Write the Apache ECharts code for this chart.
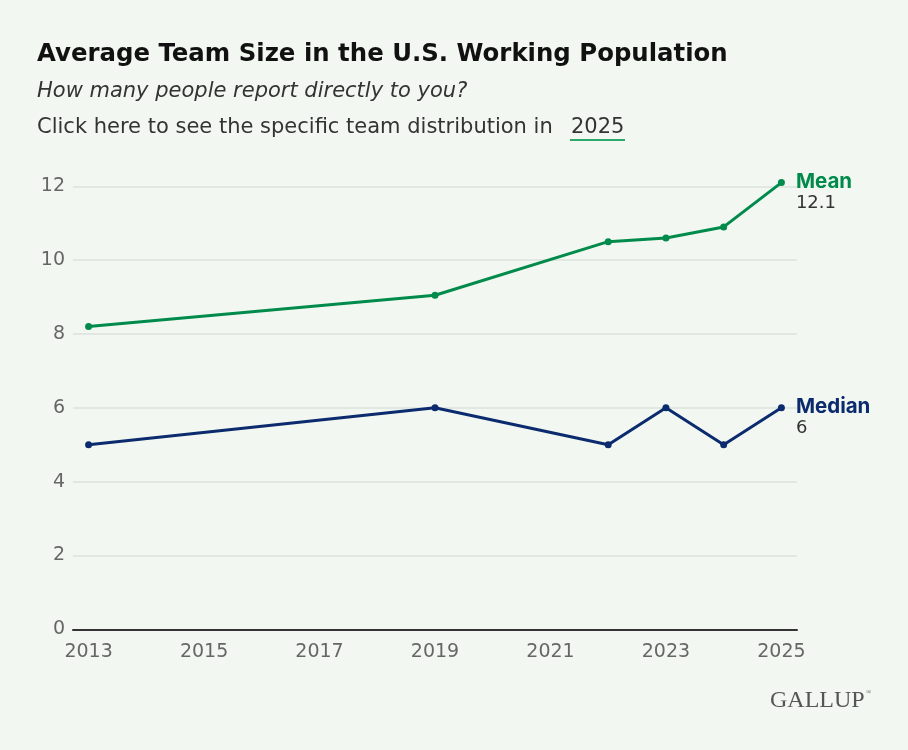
<!DOCTYPE html>
<html>
<head>
<meta charset="utf-8">
<script src="https://cdn.jsdelivr.net/npm/echarts@6/dist/echarts.min.js"></script>
<style>
  html, body { margin: 0; padding: 0; background: #f2f8f1; }
  #chart { width: 908px; height: 750px; }
</style>
</head>
<body>
<div id="chart"></div>
<script>
const years = [2013, 2019, 2022, 2023, 2024, 2025];
const meanValues = [8.2, 9.05, 10.5, 10.6, 10.9, 12.1];
const medianValues = [5, 6, 5, 6, 5, 6];
const xTickLabels = [2013, 2015, 2017, 2019, 2021, 2023, 2025];
const seriesNames = ['Mean', 'Median'];
const titleText = 'Average Team Size in the U.S. Working Population';
const subtitleText = 'How many people report directly to you?';
const linkPrefix = 'Click here to see the specific team distribution in';
const linkYear = '2025';

const GREEN = '#008a4b';
const NAVY = '#0b2b6e';
const FONT = 'Inter, "Noto Sans", sans-serif';
const WIDE = '"DejaVu Sans", sans-serif';

function buildData(values, name, color) {
  return years.map((y, i) => {
    const item = { value: [y, values[i]] };
    if (i === years.length - 1) {
      item.label = {
        show: true,
        position: 'right',
        distance: 11,
        offset: [0, 10],
        align: 'left',
        formatter: p => '{n|' + name + '}\n{v|' + p.value[1] + '}',
        rich: {
          n: { fontFamily: FONT, fontSize: 20.5, fontWeight: 'bold', color: color, lineHeight: 22 },
          v: { fontFamily: WIDE, fontSize: 18, color: '#333', lineHeight: 22 }
        }
      };
    }
    return item;
  });
}

const chart = echarts.init(document.getElementById('chart'), null, { renderer: 'canvas' });
chart.setOption({
  backgroundColor: '#f2f8f1',
  animation: false,
  grid: { left: 73, right: 111, top: 186.3, bottom: 120.7, containLabel: false },
  xAxis: {
    type: 'value',
    min: 2012.73,
    max: 2025.27,
    axisLine: { show: true, lineStyle: { color: '#333', width: 2 } },
    axisTick: { show: false },
    splitLine: { show: false },
    axisLabel: {
      customValues: xTickLabels,
      color: '#666',
      fontSize: 19,
      fontFamily: WIDE,
      margin: 13,
      formatter: v => String(v)
    }
  },
  yAxis: {
    type: 'value',
    min: 0,
    max: 12,
    interval: 2,
    axisLine: { show: false },
    axisTick: { show: false },
    splitLine: { show: true, lineStyle: { color: '#dbe2db', width: 1.5 } },
    axisLabel: { color: '#666', fontSize: 19, fontFamily: WIDE, margin: 8, padding: [3, 0, 0, 0] }
  },
  series: [
    {
      name: seriesNames[0],
      type: 'line',
      clip: false,
      data: buildData(meanValues, seriesNames[0], GREEN),
      symbol: 'circle',
      symbolSize: 7,
      lineStyle: { color: GREEN, width: 3 },
      itemStyle: { color: GREEN },
      emphasis: { disabled: true },
      z: 3
    },
    {
      name: seriesNames[1],
      type: 'line',
      clip: false,
      data: buildData(medianValues, seriesNames[1], NAVY),
      symbol: 'circle',
      symbolSize: 7,
      lineStyle: { color: NAVY, width: 3 },
      itemStyle: { color: NAVY },
      emphasis: { disabled: true },
      z: 3
    }
  ],
  graphic: [
    { type: 'text', x: 37, y: 55, style: { text: titleText, font: 'bold 24.4px ' + WIDE, fill: '#111', verticalAlign: 'middle' } },
    { type: 'text', x: 37, y: 92, style: { text: subtitleText, font: 'italic 21px ' + WIDE, fill: '#333', verticalAlign: 'middle' } },
    { type: 'text', x: 37, y: 128, style: { text: linkPrefix, font: '21px ' + WIDE, fill: '#333', verticalAlign: 'middle' } },
    { type: 'text', x: 571, y: 128, style: { text: linkYear, font: '21px ' + WIDE, fill: '#333', verticalAlign: 'middle' } },
    { type: 'line', shape: { x1: 570, y1: 140, x2: 625, y2: 140 }, style: { stroke: '#2ea86a', lineWidth: 2 } },
    { type: 'text', x: 770, y: 701, style: { text: 'GALLUP', font: '24px "Liberation Serif", serif', fill: '#555', verticalAlign: 'middle' } },
    { type: 'text', x: 866, y: 692, style: { text: '®', font: '7px "Liberation Serif", serif', fill: '#555', verticalAlign: 'middle' } }
  ]
});
</script>
</body>
</html>
